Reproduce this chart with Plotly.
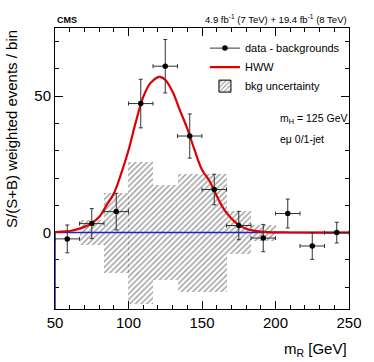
import plotly.graph_objects as go

# ---- data ----
bin_centers = [58.33, 75.0, 91.67, 108.33, 125.0, 141.67, 158.33, 175.0, 191.67, 208.33, 225.0, 241.67]
bin_width = 16.67
data_vals = [-2.3, 3.3, 7.7, 47.3, 61.0, 35.4, 15.8, 2.6, -2.0, 7.0, -4.9, 0.0]
data_errs = [5.1, 5.5, 6.7, 8.9, 9.8, 8.1, 5.6, 5.2, 5.0, 5.3, 4.9, 3.8]
bkg_unc = [0.0, 4.5, 14.7, 26.0, 17.3, 21.6, 21.6, 7.8, 2.9, 0.0, 0.0, 0.0]

hww_x = [50, 55, 60, 65, 70, 75, 80, 85, 90, 95, 100, 105, 110, 115, 120, 121.5, 125, 130,
         135, 140, 145, 150, 155, 160, 165, 170, 175, 180, 185, 190, 195, 200, 210, 225, 250]
hww_y = [0.2, 0.4, 0.6, 1.2, 2.1, 3.5, 5.7, 10.0, 14.3, 21.6, 30.2, 40.6, 49.7, 54.9, 57.0, 57.1, 56.0, 51.6,
         44.8, 38.1, 30.2, 23.0, 19.0, 13.5, 8.5, 5.2, 2.8, 1.4, 0.7, 0.35, 0.2, 0.1, 0.05, 0.02, 0.0]

bkg_x = [50, 50, 250]
bkg_y = [-28, 0, 0]

x_range = [50, 250]
y_range = [-28, 75]

FONT = "Liberation Sans, Arial, Helvetica, sans-serif"
HATCH = dict(shape="/", fgcolor="#333333", bgcolor="rgba(0,0,0,0)", size=4, solidity=0.35)

fig = go.Figure()

# background uncertainty (hatched)
fig.add_trace(go.Bar(
    x=bin_centers, y=[2 * u for u in bkg_unc], base=[-u for u in bkg_unc],
    width=bin_width,
    marker=dict(color="rgba(0,0,0,0)", line=dict(width=0), pattern=HATCH),
    showlegend=False, hoverinfo="skip",
))

# zero (background) line
fig.add_trace(go.Scatter(x=bkg_x, y=bkg_y, mode="lines",
                         line=dict(color="#2222cc", width=1.5), showlegend=False))

# HWW curve
fig.add_trace(go.Scatter(x=hww_x, y=hww_y, mode="lines", line_shape="spline",
                         line=dict(color="#dd0000", width=2.2), showlegend=False))

# data points
fig.add_trace(go.Scatter(
    x=bin_centers, y=data_vals, mode="markers",
    marker=dict(color="black", size=5.5),
    error_y=dict(type="data", array=data_errs, color="#333333", thickness=1, width=2),
    error_x=dict(type="constant", value=bin_width / 2, color="#333333", thickness=1, width=2),
    showlegend=False,
))

# legend-only entries
fig.add_trace(go.Scatter(x=[None], y=[None], mode="lines+markers", name="data - backgrounds",
                         marker=dict(color="black", size=5.5), line=dict(color="#333333", width=1)))
fig.add_trace(go.Scatter(x=[None], y=[None], mode="lines", name="HWW",
                         line=dict(color="#dd0000", width=2.2)))
fig.add_trace(go.Bar(x=[None], y=[None], name="bkg uncertainty",
                     marker=dict(color="rgba(0,0,0,0)", line=dict(color="black", width=1),
                                 pattern=dict(HATCH, bgcolor="white"))))

axis_common = dict(showline=True, linecolor="black", linewidth=1, mirror="allticks",
                   ticks="inside", tickcolor="black", showgrid=False, zeroline=False,
                   tickfont=dict(family=FONT, size=15, color="black"), layer="below traces")

fig.update_xaxes(range=x_range, tickvals=[50, 100, 150, 200, 250], ticklen=8,
                 minor=dict(dtick=10, tick0=50, ticklen=4, ticks="inside", tickcolor="black"),
                 **axis_common)
fig.update_yaxes(range=y_range, tickvals=[0, 50], ticklen=8,
                 minor=dict(dtick=10, tick0=0, ticklen=4, ticks="inside", tickcolor="black"),
                 **axis_common)

fig.update_layout(
    width=374, height=362,
    margin=dict(l=55, r=19, t=28, b=53),
    plot_bgcolor="white", paper_bgcolor="white",
    barmode="overlay", bargap=0,
    font=dict(family=FONT, color="black"),
    legend=dict(x=0.51, y=0.98, xanchor="left", yanchor="top",
                bgcolor="rgba(0,0,0,0)", font=dict(family=FONT, size=11),
                tracegroupgap=0),
    annotations=[
        dict(text="<b>CMS</b>", xref="paper", yref="paper", x=0, y=1, xanchor="left", yanchor="bottom",
             yshift=1, showarrow=False, font=dict(family=FONT, size=9)),
        dict(text="4.9 fb<sup>-1</sup> (7 TeV) + 19.4 fb<sup>-1</sup> (8 TeV)", xref="paper", yref="paper",
             x=1, y=1, xanchor="right", yanchor="bottom", yshift=1, showarrow=False,
             font=dict(family=FONT, size=9.5)),
        dict(text="m<sub>H</sub> = 125 GeV", xref="paper", yref="paper", x=0.757, y=(309 - 119) / 281,
             xanchor="left", yanchor="middle", showarrow=False, font=dict(family=FONT, size=10.5)),
        dict(text="eμ 0/1-jet", xref="paper", yref="paper", x=0.757, y=(309 - 139) / 281,
             xanchor="left", yanchor="middle", showarrow=False, font=dict(family=FONT, size=10.5)),
        dict(text="m<sub>R</sub> [GeV]", xref="paper", yref="paper", x=1, y=(309 - 349) / 281,
             xanchor="right", yanchor="middle", showarrow=False, font=dict(family=FONT, size=15)),
        dict(text="S/(S+B) weighted events / bin", xref="paper", yref="paper", x=(10 - 55) / 300, y=1,
             xanchor="center", yanchor="top", textangle=-90, showarrow=False,
             font=dict(family=FONT, size=15)),
    ],
)

fig.write_html("out.html", config={"displayModeBar": False},
               post_script="document.body.style.margin='0';")
